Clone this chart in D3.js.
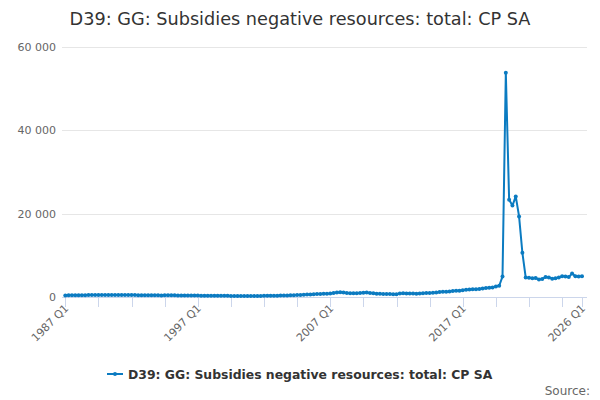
<!DOCTYPE html>
<html>
<head>
<meta charset="utf-8">
<script src="https://cdn.jsdelivr.net/npm/d3@7"></script>
<style>
  body { margin: 0; background: #fff; }
  svg { font-family: "DejaVu Sans", sans-serif; }
</style>
</head>
<body>
<svg id="chart"></svg>
<script>
var w = 600;
var h = 400;

var title = 'D39: GG: Subsidies negative resources: total: CP SA';
var startYear = 1987;

// quarterly values, 1987 Q1 .. 2026 Q1
var values = [
  380, 390, 400, 400, 420, 430, 440, 450, 450, 460,
  460, 470, 470, 460, 470, 480, 470, 460, 470, 460,
  450, 450, 440, 430, 430, 420, 420, 410, 400, 380,
  390, 420, 430, 410, 380, 360, 350, 340, 350, 340,
  330, 320, 310, 320, 300, 290, 280, 290, 280, 270,
  260, 250, 250, 240, 250, 240, 250, 260, 250, 260,
  270, 280, 300, 310, 320, 340, 360, 380, 400, 420,
  460, 500, 540, 570, 600, 650, 700, 730, 760, 800,
  850, 950, 1100, 1150, 1050, 950, 900, 920, 900, 940,
  1000, 1050, 980, 900, 780, 750, 720, 700, 690, 680,
  640, 820, 880, 860, 850, 820, 800, 830, 900, 950,
  980, 1000, 1050, 1200, 1250, 1280, 1300, 1450, 1480, 1500,
  1600, 1750, 1800, 1850, 1880, 1900, 2050, 2150, 2200, 2250,
  2500, 2700, 4900, 53700, 23300, 21900, 24100, 19300, 10600, 4700,
  4600, 4500, 4550, 4200, 4300, 4800, 4700, 4400, 4500, 4700,
  5000, 4900, 4800, 5600, 5000, 4900, 5000
];

var yTicks = [0, 20000, 40000, 60000];
var tickIdx = [0, 10, 20, 30, 40, 50, 60, 70, 80, 90, 100, 110, 120, 130, 140, 150, 156];
var labelIdx = [0, 40, 80, 120, 156];

var categories = values.map(function (d, i) {
  return (startYear + Math.floor(i / 4)) + ' Q' + (i % 4 + 1);
});

var color = '#0b7bc1';
var plotLeft = 62, plotRight = 587, plotTop = 46.5, plotBottom = 297;

var svg = d3.select('#chart').attr('width', w).attr('height', h);

var x = d3.scaleLinear().domain([0, values.length - 1]).range([65.3, 582]);
var y = d3.scaleLinear().domain([0, 60000]).range([plotBottom, plotTop]);

var fmt = d3.formatLocale({decimal: '.', thousands: ' ', grouping: [3], currency: ['', '']}).format(',');

// title
svg.append('text')
  .attr('x', w / 2)
  .attr('y', 25)
  .attr('text-anchor', 'middle')
  .attr('font-size', '17.7px')
  .attr('fill', '#333333')
  .text(title);

// gridlines
svg.append('g').selectAll('line')
  .data(yTicks)
  .enter()
  .append('line')
  .attr('x1', plotLeft)
  .attr('x2', plotRight)
  .attr('y1', function (d) { return Math.round(y(d)) + 0.5; })
  .attr('y2', function (d) { return Math.round(y(d)) + 0.5; })
  .attr('stroke', '#e6e6e6');

// y labels
svg.append('g').selectAll('text')
  .data(yTicks)
  .enter()
  .append('text')
  .attr('x', 56)
  .attr('y', function (d) { return y(d) + 4; })
  .attr('text-anchor', 'end')
  .attr('font-size', '11px')
  .attr('fill', '#666666')
  .text(function (d) { return fmt(d); });

// x axis
var xAxis = svg.append('g');
xAxis.append('line')
  .attr('x1', plotLeft).attr('x2', plotRight)
  .attr('y1', plotBottom + 0.5).attr('y2', plotBottom + 0.5)
  .attr('stroke', '#ccd6eb');

xAxis.selectAll('line.tick')
  .data(tickIdx)
  .enter()
  .append('line')
  .attr('class', 'tick')
  .attr('x1', function (d) { return Math.round(x(d)) + 0.5; })
  .attr('x2', function (d) { return Math.round(x(d)) + 0.5; })
  .attr('y1', plotBottom)
  .attr('y2', plotBottom + 10)
  .attr('stroke', '#ccd6eb');

xAxis.selectAll('text')
  .data(labelIdx)
  .enter()
  .append('text')
  .attr('text-anchor', 'end')
  .attr('font-size', '11px')
  .attr('fill', '#666666')
  .attr('transform', function (d) {
    return 'translate(' + (x(d) + 4) + ',' + (plotBottom + 12) + ') rotate(-45)';
  })
  .text(function (d) { return categories[d]; });

// series
var line = d3.line()
  .x(function (d, i) { return x(i); })
  .y(function (d) { return y(d); });

svg.append('path')
  .datum(values)
  .attr('d', line)
  .attr('fill', 'none')
  .attr('stroke', color)
  .attr('stroke-width', 2)
  .attr('stroke-linejoin', 'round');

svg.append('g').selectAll('circle')
  .data(values)
  .enter()
  .append('circle')
  .attr('cx', function (d, i) { return x(i); })
  .attr('cy', function (d) { return y(d); })
  .attr('r', 2)
  .attr('fill', color);

// legend
var legend = svg.append('g');
legend.append('line')
  .attr('x1', 107).attr('x2', 123)
  .attr('y1', 374).attr('y2', 374)
  .attr('stroke', color)
  .attr('stroke-width', 2);
legend.append('circle')
  .attr('cx', 115).attr('cy', 374).attr('r', 2)
  .attr('fill', color);
legend.append('text')
  .attr('x', 128)
  .attr('y', 378.5)
  .attr('font-size', '12.4px')
  .attr('font-weight', 'bold')
  .attr('fill', '#333333')
  .text(title);

// credits
svg.append('text')
  .attr('x', 590)
  .attr('y', 395)
  .attr('text-anchor', 'end')
  .attr('font-size', '12px')
  .attr('fill', '#666666')
  .text('Source:');
</script>
</body>
</html>
